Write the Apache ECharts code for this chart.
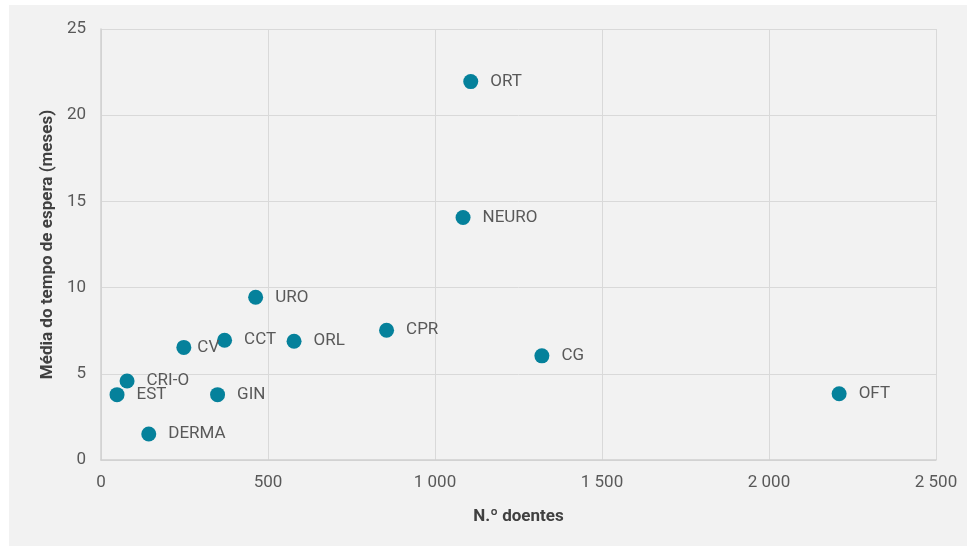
<!DOCTYPE html>
<html>
<head>
<meta charset="utf-8">
<script src="https://cdn.jsdelivr.net/npm/echarts@6/dist/echarts.min.js"></script>
<style>
    html, body { margin: 0; padding: 0; background: #ffffff; }
    #main-chart { position: absolute; left: 9px; top: 5px; width: 958px; height: 541px; background: #f2f2f2; }
</style>
</head>
<body>
<div id="main-chart"></div>
<script>
// especialidades
var especialidades = ['ORT', 'NEURO', 'URO', 'CPR', 'CG', 'OFT', 'CCT', 'ORL', 'CV', 'CRI-O', 'EST', 'GIN', 'DERMA'];
// N.º doentes
var doentes = [1107, 1084, 463, 855, 1320, 2210, 370, 578, 248, 78, 48, 349, 143];
// Média do tempo de espera (meses)
var meses = [21.95, 14.07, 9.44, 7.53, 6.04, 3.84, 6.95, 6.89, 6.53, 4.58, 3.79, 3.79, 1.51];

var xTicks = [0, 500, 1000, 1500, 2000, 2500];
var yTicks = [0, 5, 10, 15, 20, 25];

var fonte = "'Liberation Sans Narrow', 'Arial Narrow', 'Roboto', sans-serif";

var myChart = echarts.init(document.getElementById('main-chart'));

var pontos = [];
for (var i = 0; i < especialidades.length; i++) {
    var p = {
        name: especialidades[i],
        value: [doentes[i], meses[i]]
    };
    if (especialidades[i] == 'CV') {
        p.label = { distance: 6 };
    }
    pontos.push(p);
}

function fmt(v) {
    // separador de milhares com espaço
    return String(v).replace(/\B(?=(\d{3})+(?!\d))/g, ' ');
}

var option = {
    animation: false,
    textStyle: { fontFamily: fonte },
    grid: {
        left: 92,
        right: 31,
        top: 24,
        bottom: 86
    },
    xAxis: {
        type: 'value',
        min: xTicks[0],
        max: xTicks[xTicks.length - 1],
        interval: 500,
        name: 'N.º doentes',
        nameLocation: 'middle',
        nameGap: 48,
        nameTextStyle: { fontFamily: fonte, fontWeight: 'bold', fontSize: 17, color: '#404040' },
        axisLine: { show: true, lineStyle: { color: '#d0d0d0', width: 1.5 } },
        axisTick: { show: false },
        axisLabel: { formatter: fmt, fontSize: 17, color: '#595959', margin: 14 },
        splitLine: { show: true, lineStyle: { color: '#d9d9d9' } }
    },
    yAxis: {
        type: 'value',
        min: yTicks[0],
        max: yTicks[yTicks.length - 1],
        interval: 5,
        name: 'Média do tempo de espera (meses)',
        nameLocation: 'middle',
        nameGap: 43,
        nameTextStyle: { fontFamily: fonte, fontWeight: 'bold', fontSize: 17, color: '#404040' },
        axisLine: { show: true, lineStyle: { color: '#d0d0d0', width: 1.5 } },
        axisTick: { show: false },
        axisLabel: { fontSize: 17, color: '#595959', margin: 15 },
        splitLine: { show: true, lineStyle: { color: '#d9d9d9' } }
    },
    series: [
        {
            type: 'scatter',
            symbolSize: 15,
            itemStyle: { color: '#05819b', opacity: 1 },
            label: {
                show: true,
                position: 'right',
                distance: 12,
                formatter: '{b}',
                fontSize: 17,
                color: '#595959'
            },
            labelLayout: { hideOverlap: false },
            data: pontos
        }
    ]
};
myChart.setOption(option);
</script>
</body>
</html>
